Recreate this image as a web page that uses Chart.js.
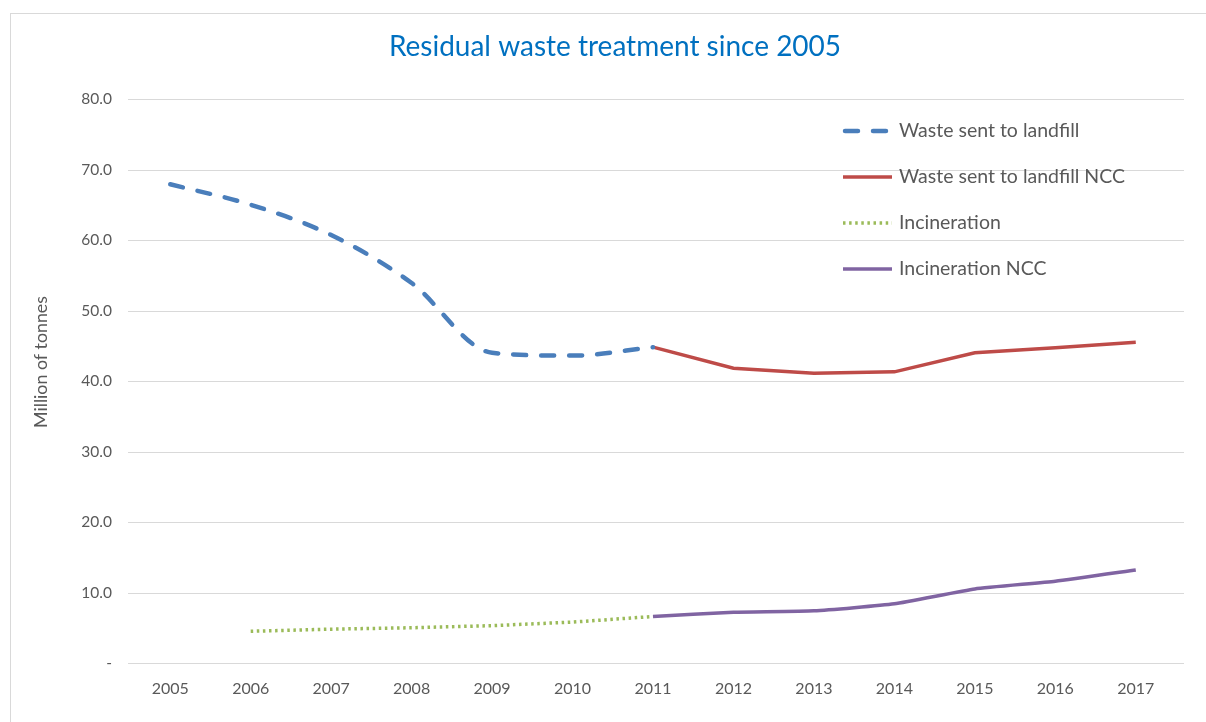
<!DOCTYPE html>
<html>
<head>
<meta charset="utf-8">
<script src="https://cdn.jsdelivr.net/npm/chart.js@4/dist/chart.umd.min.js"></script>
<style>
  html, body { margin: 0; padding: 0; background: #fff; }
  #wrap { position: relative; width: 1206px; height: 722px; overflow: hidden; }
  #frame { position: absolute; left: 10px; top: 13px; width: 1300px; height: 800px; border-left: 1px solid #d9d9d9; border-top: 1px solid #d9d9d9; }
  canvas { position: absolute; left: 0; top: 0; }
</style>
</head>
<body>
<div id="wrap">
  <div id="frame"></div>
  <canvas id="c" width="1206" height="722"></canvas>
</div>
<script>
const years = ['2005','2006','2007','2008','2009','2010','2011','2012','2013','2014','2015','2016','2017'];
const landfill     = [67.9, 65.0, 60.7, 53.9, 44.0, 43.6, 44.8, null, null, null, null, null, null];
const landfillNCC  = [null, null, null, null, null, null, 44.8, 41.8, 41.1, 41.3, 44.0, 44.7, 45.5];
const incineration = [null, 4.5, 4.8, 5.0, 5.3, 5.8, 6.6, null, null, null, null, null, null];
const incinerationNCC = [null, null, null, null, null, null, 6.6, 7.2, 7.4, 8.4, 10.5, 11.6, 13.2];
const yTicks = [0, 10, 20, 30, 40, 50, 60, 70, 80];
const seriesNames = ['Waste sent to landfill', 'Waste sent to landfill NCC', 'Incineration', 'Incineration NCC'];
const chartTitle = 'Residual waste treatment since 2005';
const yTitle = 'Million of tonnes';

const FONT = 'Lato, "Open Sans", sans-serif';
const TXT = '#595959';

const gridPlugin = {
  id: 'extGrid',
  beforeDatasetsDraw(chart) {
    const ctx = chart.ctx, y = chart.scales.y;
    ctx.save();
    ctx.strokeStyle = '#d9d9d9';
    ctx.lineWidth = 1;
    yTicks.forEach(v => {
      const py = Math.round(y.getPixelForValue(v)) + 0.5;
      ctx.beginPath();
      ctx.moveTo(128, py);
      ctx.lineTo(1184, py);
      ctx.stroke();
    });
    ctx.restore();
  }
};

const titlePlugin = {
  id: 'ownTitles',
  afterDraw(chart) {
    const ctx = chart.ctx;
    ctx.save();
    ctx.fillStyle = '#0070C0';
    ctx.font = '28px ' + FONT;
    ctx.textAlign = 'center';
    ctx.textBaseline = 'middle';
    ctx.fillText(chartTitle, 615, 47);
    ctx.restore();
    ctx.save();
    ctx.translate(41, 362);
    ctx.rotate(-Math.PI / 2);
    ctx.fillStyle = TXT;
    ctx.font = '17.8px ' + FONT;
    ctx.textAlign = 'center';
    ctx.textBaseline = 'middle';
    ctx.fillText(yTitle, 0, 0);
    ctx.restore();
  }
};

const legendPlugin = {
  id: 'innerLegend',
  afterDraw(chart) {
    const ctx = chart.ctx;
    ctx.save();
    chart.data.datasets.forEach((ds, i) => {
      const cy = 131 + i * 46;
      ctx.beginPath();
      ctx.strokeStyle = ds.borderColor;
      ctx.lineWidth = ds.borderWidth;
      ctx.lineCap = ds.borderCapStyle || 'butt';
      ctx.setLineDash(ds.borderDash || []);
      ctx.moveTo(ds.legendStart || 843, cy);
      ctx.lineTo(892, cy);
      ctx.stroke();
      ctx.setLineDash([]);
      ctx.fillStyle = TXT;
      ctx.font = '19.5px ' + FONT;
      ctx.textBaseline = 'middle';
      ctx.fillText(ds.label, 899, cy);
    });
    ctx.restore();
  }
};

new Chart(document.getElementById('c'), {
  type: 'line',
  data: {
    labels: years,
    datasets: [
      { label: seriesNames[0], data: landfill, borderColor: '#4A7EBB', borderWidth: 4.5, borderDash: [13, 15], borderCapStyle: 'round', cubicInterpolationMode: 'monotone', pointRadius: 0, spanGaps: false, legendStart: 845 },
      { label: seriesNames[1], data: landfillNCC, borderColor: '#BE4B48', borderWidth: 3.5, tension: 0, pointRadius: 0, spanGaps: false },
      { label: seriesNames[2], data: incineration, borderColor: '#9BBB59', borderWidth: 3.5, borderDash: [2.5, 3.6], tension: 0, pointRadius: 0, spanGaps: false },
      { label: seriesNames[3], data: incinerationNCC, borderColor: '#8064A2', borderWidth: 3.5, tension: 0.15, pointRadius: 0, spanGaps: false }
    ]
  },
  options: {
    responsive: false,
    animation: false,
    events: [],
    layout: { padding: { left: 33, right: 30, top: 99, bottom: 0 } },
    plugins: {
      legend: { display: false },
      tooltip: { enabled: false },
      title: { display: false }
    },
    scales: {
      x: {
        offset: true,
        grid: { display: false, drawTicks: false },
        border: { display: false },
        ticks: { color: TXT, font: { family: FONT, size: 16 }, padding: 16, maxRotation: 0, autoSkip: false },
        afterFit(s) { s.height = 59; }
      },
      y: {
        min: 0, max: 80,
        afterBuildTicks(s) { s.ticks = yTicks.map(v => ({ value: v })); },
        grid: { display: false, drawTicks: false },
        border: { display: false },
        ticks: {
          color: TXT, font: { family: FONT, size: 15.5 }, padding: 18,
          callback: v => v === 0 ? '-' : v.toFixed(1)
        },
        title: { display: false },
        afterFit(s) { s.width = 97; }
      }
    }
  },
  plugins: [gridPlugin, titlePlugin, legendPlugin]
});
</script>
</body>
</html>
